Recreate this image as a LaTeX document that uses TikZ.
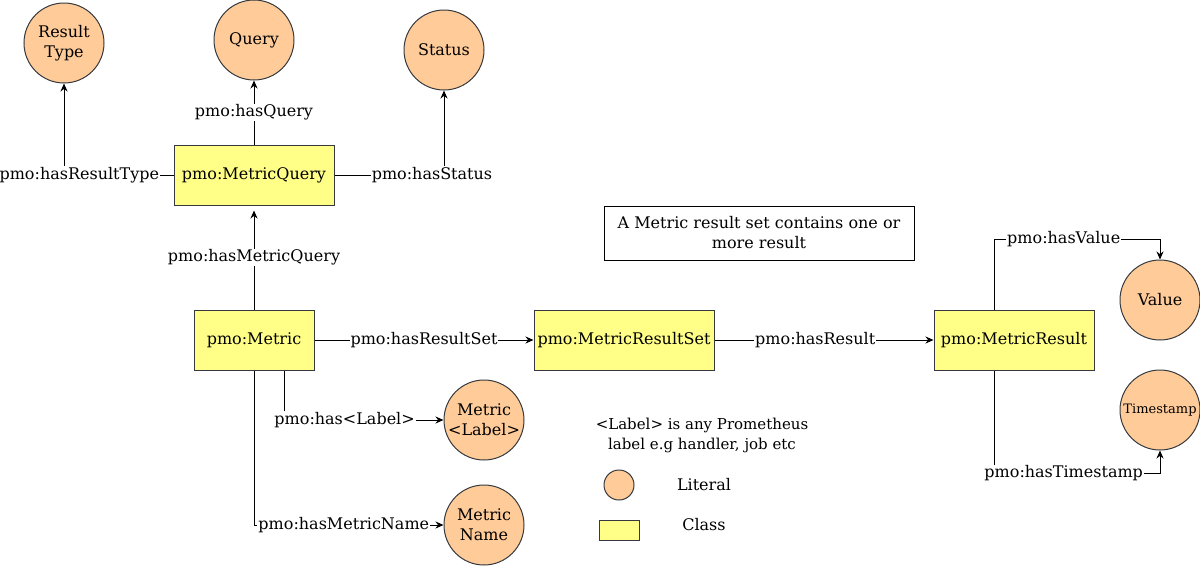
\documentclass[tikz,border=0pt]{standalone}
\usepackage{fontspec}
\setmainfont{DejaVu Serif}
\usetikzlibrary{arrows.meta}
\definecolor{litfill}{HTML}{FFCC99}
\definecolor{clsfill}{HTML}{FFFF88}
\definecolor{edge}{HTML}{36393D}

\begin{document}
\begin{tikzpicture}[x=1pt,y=-1pt,line width=1pt,
  lit/.style={circle,draw=edge,fill=litfill,minimum size=80pt,inner sep=0pt,align=center,font=\fontsize{16}{20}\selectfont},
  cls/.style={rectangle,draw=edge,fill=clsfill,minimum height=60pt,inner sep=0pt,align=center,font=\fontsize{16}{20}\selectfont},
  lbl/.style={fill=white,inner sep=1pt,font=\fontsize{16}{20}\selectfont},
  txt/.style={align=center,inner sep=0pt,font=\fontsize{16}{20}\selectfont},
  small/.style={font=\fontsize{15}{20}\selectfont},
  arr/.style={-{Stealth[length=8pt,width=7pt]}}]
\useasboundingbox (0,0) rectangle (1200,566);
% literals and classes
\node[lit] (rtype) at (64,43) {Result\\Type};
\node[lit] (query) at (254,40) {Query};
\node[lit] (status) at (444,50) {Status};
\node[cls,minimum width=160pt] (mquery) at (254,175) {pmo:MetricQuery};
\node[cls,minimum width=120pt] (metric) at (254,340) {pmo:Metric};
\node[cls,minimum width=180pt] (mrset) at (624,340) {pmo:MetricResultSet};
\node[cls,minimum width=160pt] (mres) at (1014,340) {pmo:MetricResult};
\node[lit] (value) at (1160,300) {Value};
\node[lit,font=\fontsize{13}{16}\selectfont] (tstamp) at (1160,410) {Timestamp};
\node[lit] (mlabel) at (484,420) {Metric\\<Label>};
\node[lit] (mname) at (484,525) {Metric\\Name};
% notes and key
\node[txt,draw,minimum width=310pt,minimum height=54pt] (note) at (759,233) {A Metric result set contains one or\\more result};
\node[txt,small] (info) at (702,435) {<Label> is any Prometheus\\label e.g handler, job etc};
\node[lit,minimum size=30pt] (klit) at (619,485) {};
\node[txt] (tlit) at (704,485) {Literal};
\node[cls,minimum width=40pt,minimum height=20pt] (kcls) at (619,530) {};
\node[txt] (tcls) at (704,525) {Class};
% properties
\draw[arr] (mquery.north) -- node[lbl]{pmo:hasQuery} (query.south);
\draw[arr] (mquery.west) -| node[lbl,pos=0.43]{pmo:hasResultType} (rtype.south);
\draw[arr] (mquery.east) -| node[lbl,pos=0.445]{pmo:hasStatus} (status.south);
\draw[arr,shorten >=5pt] (metric.north) -- node[lbl]{pmo:hasMetricQuery} (mquery.south);
\draw[arr] (metric.east) -- node[lbl]{pmo:hasResultSet} (mrset.west);
\draw[arr] (mrset.east) -- node[lbl,pos=0.46]{pmo:hasResult} (mres.west);
\draw[arr] ([xshift=-20pt]mres.north) -- ++(0,-70) -| node[lbl,pos=0.21]{pmo:hasValue} (value.north);
\draw[arr] ([xshift=-20pt]mres.south) -- ++(0,103) -| node[lbl,pos=0.21]{pmo:hasTimestamp} (tstamp.south);
\draw[arr] ([xshift=30pt]metric.south) |- node[lbl,pos=0.69]{pmo:has<Label>} (mlabel.west);
\draw[arr] (metric.south) |- node[lbl,pos=0.737]{pmo:hasMetricName} (mname.west);
\end{tikzpicture}
\end{document}
